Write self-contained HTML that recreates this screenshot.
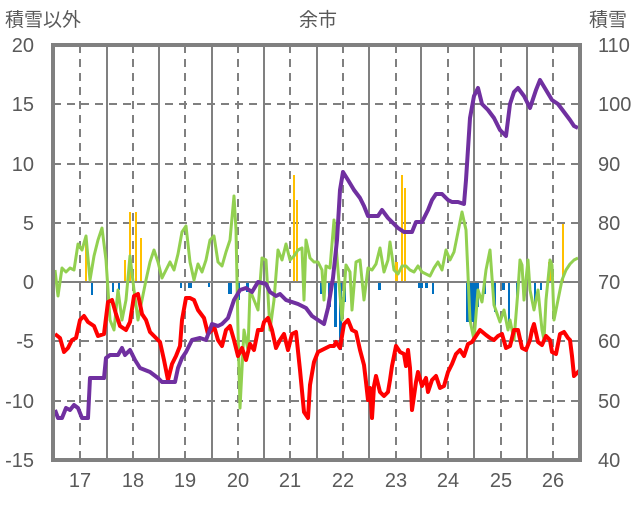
<!DOCTYPE html>
<html><head><meta charset="utf-8"><style>
body{margin:0;background:#fff}
svg text{font-family:"Liberation Sans","Noto Sans CJK JP",sans-serif;fill:#595959}
</style></head><body>
<svg width="636" height="501" viewBox="0 0 636 501" xmlns="http://www.w3.org/2000/svg">
<rect width="636" height="501" fill="#fff"/>
<g stroke="#808080" stroke-width="2" stroke-dasharray="8,6">
<line x1="53" y1="104" x2="580" y2="104"/><line x1="53" y1="164" x2="580" y2="164"/><line x1="53" y1="223" x2="580" y2="223"/><line x1="53" y1="341" x2="580" y2="341"/><line x1="53" y1="401" x2="580" y2="401"/>
<line x1="80" y1="45" x2="80" y2="460"/><line x1="133" y1="45" x2="133" y2="460"/><line x1="185" y1="45" x2="185" y2="460"/><line x1="238" y1="45" x2="238" y2="460"/><line x1="290" y1="45" x2="290" y2="460"/><line x1="343" y1="45" x2="343" y2="460"/><line x1="396" y1="45" x2="396" y2="460"/><line x1="448" y1="45" x2="448" y2="460"/><line x1="501" y1="45" x2="501" y2="460"/><line x1="553" y1="45" x2="553" y2="460"/>
</g>
<g stroke="#808080" stroke-width="2">
<line x1="107" y1="45" x2="107" y2="460"/><line x1="159" y1="45" x2="159" y2="460"/><line x1="212" y1="45" x2="212" y2="460"/><line x1="264" y1="45" x2="264" y2="460"/><line x1="317" y1="45" x2="317" y2="460"/><line x1="369" y1="45" x2="369" y2="460"/><line x1="421" y1="45" x2="421" y2="460"/><line x1="474" y1="45" x2="474" y2="460"/><line x1="527" y1="45" x2="527" y2="460"/>
</g>
<g fill="#FFC000">
<rect x="85" y="238" width="2" height="44"/><rect x="124" y="260" width="2" height="22"/><rect x="129" y="212" width="2" height="70"/><rect x="135" y="212" width="2" height="70"/><rect x="140" y="238" width="2" height="44"/><rect x="293" y="175" width="2" height="107"/><rect x="296" y="200" width="2" height="82"/><rect x="401" y="175" width="2" height="107"/><rect x="404" y="188" width="2" height="94"/><rect x="395" y="262" width="3" height="20"/><rect x="562" y="224" width="2" height="58"/><rect x="548" y="262" width="3" height="20"/>
</g>
<g fill="#0070C0">
<rect x="91" y="282" width="2" height="13"/><rect x="112" y="282" width="2" height="10"/><rect x="118" y="282" width="2" height="8"/><rect x="180" y="282" width="2" height="6"/><rect x="188" y="282" width="4" height="6"/><rect x="208" y="282" width="2" height="5"/><rect x="228" y="282" width="4" height="12"/><rect x="236" y="282" width="4" height="18"/><rect x="246" y="282" width="3" height="10"/><rect x="320" y="282" width="2" height="12"/><rect x="328" y="282" width="3" height="25"/><rect x="334" y="282" width="3" height="45"/><rect x="339" y="282" width="3" height="68"/><rect x="344" y="282" width="2" height="20"/><rect x="378" y="282" width="3" height="8"/><rect x="418" y="282" width="5" height="6"/><rect x="425" y="282" width="3" height="6"/><rect x="432" y="282" width="2" height="12"/><rect x="466" y="282" width="10" height="40"/><rect x="476" y="282" width="3" height="25"/><rect x="484" y="282" width="2" height="12"/><rect x="494" y="282" width="2" height="30"/><rect x="502" y="282" width="3" height="8"/><rect x="508" y="282" width="2" height="40"/><rect x="516" y="282" width="2" height="15"/><rect x="534" y="282" width="2" height="22"/><rect x="540" y="282" width="2" height="8"/>
</g>
<line x1="53" y1="282" x2="580" y2="282" stroke="#808080" stroke-width="2"/>
<polyline fill="none" stroke="#92D050" stroke-width="3" stroke-linejoin="round" points="55,270 58,296 62,268 66,272 70,268 74,270 78,244 82,250 86,236 90,280 94,256 98,240 102,228 106,260 110,320 114,330 118,290 122,320 126,300 130,256 134,290 138,320 142,300 146,280 150,262 154,250 158,262 162,278 166,270 170,262 174,270 178,254 182,232 186,226 190,262 194,280 198,264 202,272 206,260 210,240 214,236 218,262 222,266 226,252 230,240 234,196 236,230 238,330 240,408 244,330 248,350 250,290 254,300 258,310 262,258 266,260 270,330 274,300 278,250 282,260 286,244 290,260 294,256 298,250 302,248 304,300 306,240 310,258 314,262 318,262 322,270 324,300 326,266 330,268 334,220 338,270 342,320 346,265 350,272 352,310 356,262 360,260 364,300 368,268 372,270 376,264 380,248 384,272 388,260 390,242 394,270 398,274 402,266 406,266 410,270 414,272 418,266 422,272 426,274 430,276 434,268 438,262 442,270 446,250 450,260 454,252 458,232 462,212 466,230 470,320 474,340 478,290 482,302 486,270 490,250 494,305 500,322 504,310 508,330 510,320 514,340 518,290 520,260 522,265 524,300 528,260 530,290 534,310 538,290 542,330 544,340 546,300 550,260 552,265 554,320 558,300 562,280 566,270 570,264 574,260 578,258"/>
<polyline fill="none" stroke="#FF0000" stroke-width="4" stroke-linejoin="round" points="55,334 60,338 64,352 68,348 72,340 76,338 80,320 84,316 88,322 94,326 98,336 104,334 108,302 112,300 116,314 120,326 126,330 130,322 134,296 138,294 142,314 146,320 150,332 156,338 160,342 164,360 168,380 172,364 176,356 180,346 182,320 186,298 190,298 194,300 198,310 204,318 208,334 212,330 214,326 218,340 222,346 226,330 230,326 234,340 238,356 242,348 246,360 250,344 254,350 258,330 262,330 264,322 268,318 272,330 276,348 280,340 284,334 288,350 292,334 296,332 300,370 304,412 308,418 310,385 314,362 318,352 322,350 326,348 330,346 334,346 336,342 340,348 344,324 348,320 352,330 356,332 360,350 364,365 366,382 368,400 370,388 372,418 374,386 376,376 380,392 384,396 388,392 390,380 392,366 396,346 400,352 404,354 406,366 408,350 410,368 412,410 416,382 418,372 422,386 426,378 428,392 432,380 436,376 440,388 444,386 448,372 452,364 456,354 460,350 464,356 468,344 472,342 476,336 480,330 486,335 490,338 494,340 498,336 502,334 506,348 510,346 514,330 518,330 522,348 526,350 530,340 532,330 534,324 538,342 542,345 546,336 550,340 552,352 556,354 560,334 564,332 568,338 570,340 572,356 574,376 578,372 580,370"/>
<polyline fill="none" stroke="#7030A0" stroke-width="4" stroke-linejoin="round" points="55,410 58,418 62,418 66,408 70,410 74,405 78,408 82,418 88,418 90,378 104,378 106,358 110,355 118,355 122,348 125,355 130,350 135,360 140,368 150,372 158,378 162,382 175,382 178,368 182,358 186,352 192,340 200,338 206,340 212,324 218,326 222,324 228,318 234,300 240,290 246,288 252,292 258,282 266,284 270,292 276,296 280,294 286,300 292,302 298,304 306,308 312,316 318,320 324,324 328,308 333,278 337,240 340,190 343,172 348,180 354,190 360,198 364,206 368,216 378,216 382,210 388,218 394,224 398,228 404,232 412,232 416,222 422,222 428,210 432,200 436,194 442,194 448,200 452,202 458,202 464,204 466,180 470,118 474,96 478,88 482,104 488,110 494,118 500,130 506,136 510,104 514,92 518,88 524,96 530,108 536,90 540,80 546,90 552,100 558,104 564,112 570,120 574,126 578,128"/>
<rect x="53" y="45" width="527" height="415" fill="none" stroke="#808080" stroke-width="4"/>
<g font-size="20" text-anchor="end">
<text x="34" y="52">20</text><text x="34" y="111">15</text><text x="34" y="171">10</text><text x="34" y="230">5</text><text x="34" y="289">0</text><text x="34" y="348">-5</text><text x="34" y="408">-10</text><text x="34" y="467">-15</text>
</g>
<g font-size="20" text-anchor="start">
<text x="598" y="52">110</text><text x="598" y="111">100</text><text x="598" y="171">90</text><text x="598" y="230">80</text><text x="598" y="289">70</text><text x="598" y="348">60</text><text x="598" y="408">50</text><text x="598" y="467">40</text>
</g>
<g font-size="20" text-anchor="middle">
<text x="80" y="487">17</text><text x="133" y="487">18</text><text x="185" y="487">19</text><text x="238" y="487">20</text><text x="290" y="487">21</text><text x="343" y="487">22</text><text x="396" y="487">23</text><text x="448" y="487">24</text><text x="501" y="487">25</text><text x="553" y="487">26</text>
</g>
<text x="5" y="26" font-size="19">積雪以外</text>
<text x="318" y="26" font-size="19" text-anchor="middle">余市</text>
<text x="589" y="26" font-size="19">積雪</text>
</svg>
</body></html>
